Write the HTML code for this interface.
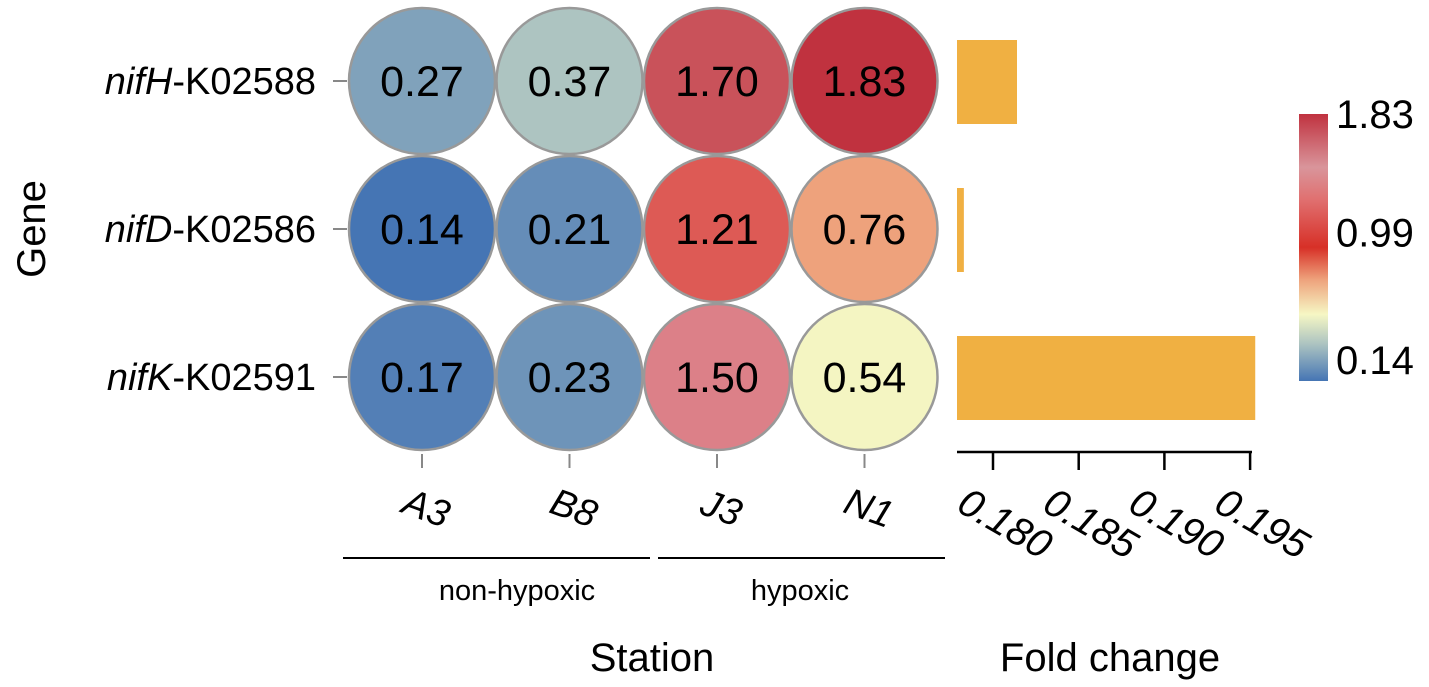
<!DOCTYPE html>
<html><head><meta charset="utf-8"><style>
html,body{margin:0;padding:0;background:#fff;}
svg{display:block;font-family:"Liberation Sans",Arial,sans-serif;}
</style></head><body>
<svg id="chart" width="1429" height="687" viewBox="0 0 1429 687">
<defs>
<linearGradient id="cbg" x1="0" y1="1" x2="0" y2="0">
<stop offset="0" stop-color="#4575b4"/>
<stop offset="0.14" stop-color="#adc4c1"/>
<stop offset="0.25" stop-color="#f6f7c4"/>
<stop offset="0.38" stop-color="#eea27c"/>
<stop offset="0.5" stop-color="#d73027"/>
<stop offset="0.68" stop-color="#e07070"/>
<stop offset="0.8" stop-color="#d9959b"/>
<stop offset="1" stop-color="#c0323f"/>
</linearGradient>
</defs>
<g id="root"></g>
</svg>
<script>
const genes = ["nifH","nifD","nifK"];
const geneIds = ["-K02588","-K02586","-K02591"];
const stations = ["A3","B8","J3","N1"];
const values = [[0.27,0.37,1.70,1.83],[0.14,0.21,1.21,0.76],[0.17,0.23,1.50,0.54]];
const foldChange = [0.1814,0.1783,0.1953];
const foldTicks = [0.180,0.185,0.190,0.195];
const cbTicks = [1.83,0.99,0.14];
const groups = ["non-hypoxic","hypoxic"];

const NS="http://www.w3.org/2000/svg";
const root=document.getElementById('root');
function mk(tag,attrs,text){const e=document.createElementNS(NS,tag);for(const k in attrs)e.setAttribute(k,attrs[k]);if(text!==undefined)e.textContent=text;root.appendChild(e);return e;}
const cx=i=>422+i*147.5;
const cy=j=>81+j*148;
const bx=v=>993+(v-0.180)/0.005*85.7;
const cbY=v=>381-(v-0.14)/(1.83-0.14)*267;
const stops=[[0.14,[69,117,180]],[0.37,[173,196,193]],[0.54,[244,245,194]],[0.76,[238,162,124]],[0.99,[215,48,39]],[1.21,[221,90,85]],[1.50,[220,128,136]],[1.70,[201,82,90]],[1.83,[192,50,63]]];
function col(v){for(let i=0;i<stops.length-1;i++){const a=stops[i],b=stops[i+1];if(v<=b[0]||i==stops.length-2){let t=Math.max(0,Math.min(1,(v-a[0])/(b[0]-a[0])));return 'rgb('+a[1].map((c,k)=>Math.round(c+(b[1][k]-c)*t)).join(',')+')';}}}

genes.forEach((g,j)=>{
  let t=mk('line',{x1:333,x2:347,y1:cy(j),y2:cy(j),stroke:'#888','stroke-width':2});
  
  
  let tx=mk('text',{x:316,y:cy(j)+13,'text-anchor':'end','font-size':38});
  
  
  const s=document.createElementNS(NS,'tspan');s.setAttribute('font-style','italic');s.textContent=g;tx.appendChild(s);
  const s2=document.createElementNS(NS,'tspan');s2.textContent=geneIds[j];tx.appendChild(s2);
});
values.forEach((row,j)=>row.forEach((v,i)=>{
  let c=mk('circle',{cx:cx(i),cy:cy(j),r:73,fill:col(v),stroke:'#999','stroke-width':2.5});
  
  
  let t=mk('text',{x:cx(i),y:cy(j)+15,'text-anchor':'middle','font-size':43},v.toFixed(2));
  
  
}));
stations.forEach((s,i)=>{
  let t=mk('line',{x1:cx(i),x2:cx(i),y1:454,y2:468,stroke:'#888','stroke-width':2});
  
  
  let l=mk('text',{x:0,y:0,'text-anchor':'middle','font-size':38,'font-style':'italic',transform:'translate('+(cx(i))+',520) rotate(20)'},s);
  
  
});
[[343,650],[658,945]].forEach((r,k)=>{
  let l=mk('line',{x1:r[0],x2:r[1],y1:558,y2:558,stroke:'#000','stroke-width':2});
  
  
  let t=mk('text',{x:k==0?517:800,y:600,'text-anchor':'middle','font-size':29},groups[k]);
  
  
});
let st=mk('text',{x:652,y:671,'text-anchor':'middle','font-size':40},'Station');


let gt=mk('text',{x:0,y:0,'text-anchor':'middle','font-size':40,transform:'translate(45,229) rotate(-90)'},'Gene');


foldChange.forEach((v,j)=>{
  let b=mk('rect',{x:957,y:cy(j)-41,width:bx(v)-957,height:84,fill:'#f0b042'});
  
  
});
let ax=mk('line',{x1:957,x2:1252,y1:452,y2:452,stroke:'#000','stroke-width':2.5});


foldTicks.forEach(v=>{
  let t=mk('line',{x1:bx(v),x2:bx(v),y1:452,y2:470,stroke:'#000','stroke-width':2.5});
  
  
  let l=mk('text',{x:0,y:0,'font-size':40,'font-style':'italic',transform:'translate('+(bx(v)-38)+',510) rotate(30)'},v.toFixed(3));
  
  
});
let ft=mk('text',{x:1110,y:671,'text-anchor':'middle','font-size':40},'Fold change');


let cb=mk('rect',{x:1299,y:114,width:29,height:267,fill:'url(#cbg)'});


cbTicks.forEach(v=>{
  let t=mk('text',{x:1336,y:cbY(v)+(v>1.8?14:(v<0.2?-7:0)),'font-size':40},v.toFixed(2));
  
  
});
</script>
</body></html>
